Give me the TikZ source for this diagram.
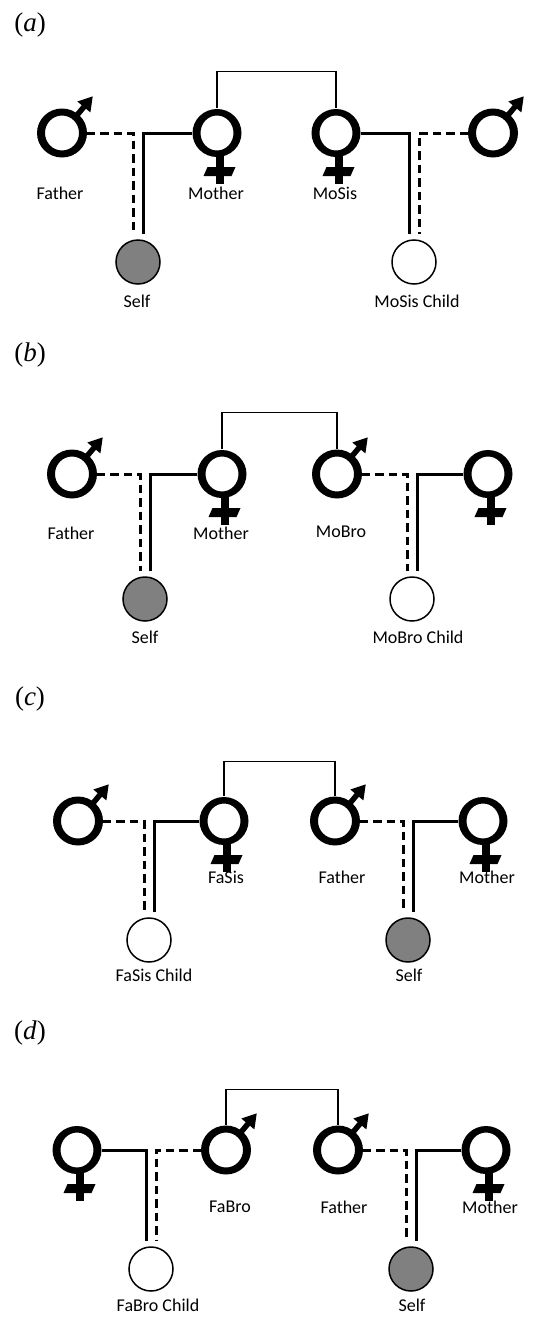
\documentclass[tikz,border=0pt]{standalone}
\usepackage{fontspec}
\setmainfont{Carlito}
\newfontfamily\tagfont{Liberation Serif}
\usetikzlibrary{arrows.meta}
\definecolor{selfgray}{RGB}{128,128,128}

\tikzset{
	person/.style={circle,inner sep=0pt,minimum size=49pt},
	male/.pic={
		\fill[even odd rule] (0,0) ellipse (25 and 24.5) (0,0) ellipse (17 and 17.5); %ring
		\draw[line width=5.5pt,-{Triangle[length=14pt,width=16pt]}] (-50:20) -- (-50:48); %arrow
		\node[person] (-r) at (0,0) {};
	},
	female/.pic={
		\fill[even odd rule] (0,0) ellipse (24.5 and 24) (0,0) ellipse (16.5 and 17.5); %ring
		\fill (-1,20) rectangle (6.5,51); %stem
		\fill (-13.5,43) -- (-9.5,34) -- (18.5,34) -- (14.5,43) -- cycle; %cross bar
		\node[person] (-r) at (0,0) {};
	},
}

\begin{document}
\begin{tikzpicture}[x=1pt,y=-1pt,
	kid/.style={circle,draw,line width=1.5pt,minimum size=44pt,inner sep=0pt,fill=white},
	selfkid/.style={kid,fill=selfgray},
	lab/.style={inner sep=0pt,font=\fontsize{18}{20}\selectfont},
	tag/.style={inner sep=0pt,font=\tagfont\fontsize{27}{30}\selectfont},
	solidline/.style={line width=3pt},
	dashline/.style={line width=3pt,dash pattern=on 8.5pt off 5pt},
	bracket/.style={line width=1.3pt}]
	\useasboundingbox (0,0) rectangle (536,1317);

	%(a) mother's sister
	\node[tag] (aTag) at (30,25) {(\textit{a})};
	\pic (aFa) at (62,133) {male};
	\pic (aMo) at (217,133) {female};
	\pic (aMs) at (336,133) {female};
	\pic (aMsh) at (493,133) {male}; %MoSis husband
	\node[selfkid] (aSelf) at (138,262) {};
	\node[kid] (aMsc) at (414,262) {};
	\node[lab] (aFaLab) at (60,193) {Father};
	\node[lab] (aMoLab) at (216,193) {Mother};
	\node[lab] (aMsLab) at (335,193) {MoSis};
	\node[lab] (aSelfLab) at (137,301) {Self};
	\node[lab] (aMscLab) at (417,301) {MoSis Child};
	\draw[bracket] (aMo-r.north) -- ++(0,-37) -| (aMs-r.north); %siblings
	\draw[dashline] (aFa-r.east) -| ([xshift=-5pt,yshift=5pt]aSelf.north);
	\draw[solidline] (aMo-r.west) -| ([xshift=5pt,yshift=5pt]aSelf.north);
	\draw[solidline] (aMs-r.east) -| ([xshift=-5pt,yshift=5pt]aMsc.north);
	\draw[dashline] (aMsh-r.west) -| ([xshift=5pt,yshift=5pt]aMsc.north);

	%(b) mother's brother
	\node[tag] (bTag) at (30,355) {(\textit{b})};
	\pic (bFa) at (72,474) {male};
	\pic (bMo) at (222,474) {female};
	\pic (bMb) at (337,474) {male};
	\pic (bMbw) at (488,474) {female}; %MoBro wife
	\node[selfkid] (bSelf) at (145,599) {};
	\node[kid] (bMbc) at (412,599) {};
	\node[lab] (bFaLab) at (71,533) {Father};
	\node[lab] (bMoLab) at (221,533) {Mother};
	\node[lab] (bMbLab) at (341,532) {MoBro};
	\node[lab] (bSelfLab) at (145,637) {Self};
	\node[lab] (bMbcLab) at (418,637) {MoBro Child};
	\draw[bracket] (bMo-r.north) -- ++(0,-36.5) -| (bMb-r.north); %siblings
	\draw[dashline] (bFa-r.east) -| ([xshift=-5pt,yshift=5pt]bSelf.north);
	\draw[solidline] (bMo-r.west) -| ([xshift=5pt,yshift=5pt]bSelf.north);
	\draw[dashline] (bMb-r.east) -| ([xshift=-5pt,yshift=5pt]bMbc.north);
	\draw[solidline] (bMbw-r.west) -| ([xshift=5pt,yshift=5pt]bMbc.north);

	%(c) father's sister
	\node[tag] (cTag) at (30,699) {(\textit{c})};
	\pic (cFsh) at (78,821) {male}; %FaSis husband
	\pic (cFs) at (224,821) {female};
	\pic (cFa) at (335,821) {male};
	\pic (cMo) at (483,821) {female};
	\node[kid] (cFsc) at (149,940) {};
	\node[selfkid] (cSelf) at (408,940) {};
	\node[lab] (cFsLab) at (226,877) {FaSis};
	\node[lab] (cFaLab) at (342,877) {Father};
	\node[lab] (cMoLab) at (487,877) {Mother};
	\node[lab] (cFscLab) at (154,975) {FaSis Child};
	\node[lab] (cSelfLab) at (409,975) {Self};
	\draw[bracket] (cFs-r.north) -- ++(0,-34.5) -| (cFa-r.north); %siblings
	\draw[dashline] (cFsh-r.east) -| ([xshift=-5pt,yshift=5pt]cFsc.north);
	\draw[solidline] (cFs-r.west) -| ([xshift=5pt,yshift=5pt]cFsc.north);
	\draw[dashline] (cFa-r.east) -| ([xshift=-5pt,yshift=5pt]cSelf.north);
	\draw[solidline] (cMo-r.west) -| ([xshift=5pt,yshift=5pt]cSelf.north);

	%(d) father's brother
	\node[tag] (dTag) at (30,1033) {(\textit{d})};
	\pic (dFbw) at (77,1150) {female}; %FaBro wife
	\pic (dFb) at (226,1150) {male};
	\pic (dFa) at (338,1150) {male};
	\pic (dMo) at (486,1150) {female};
	\node[kid] (dFbc) at (151,1269) {};
	\node[selfkid] (dSelf) at (411,1269) {};
	\node[lab] (dFbLab) at (230,1207) {FaBro};
	\node[lab] (dFaLab) at (344,1207) {Father};
	\node[lab] (dMoLab) at (490,1207) {Mother};
	\node[lab] (dFbcLab) at (158,1305) {FaBro Child};
	\node[lab] (dSelfLab) at (412,1305) {Self};
	\draw[bracket] (dFb-r.north) -- ++(0,-35.5) -| (dFa-r.north); %siblings
	\draw[solidline] (dFbw-r.east) -| ([xshift=-5pt,yshift=5pt]dFbc.north);
	\draw[dashline] (dFb-r.west) -| ([xshift=5pt,yshift=5pt]dFbc.north);
	\draw[dashline] (dFa-r.east) -| ([xshift=-5pt,yshift=5pt]dSelf.north);
	\draw[solidline] (dMo-r.west) -| ([xshift=5pt,yshift=5pt]dSelf.north);
\end{tikzpicture}
\end{document}
